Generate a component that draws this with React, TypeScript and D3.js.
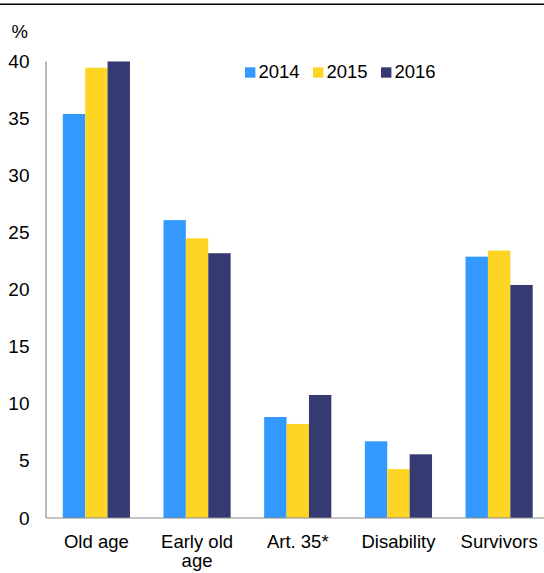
import React from "react";
import * as d3 from "d3";

const categories = ["Old age", "Early old age", "Art. 35*", "Disability", "Survivors"];
const categoryLines = [["Old age"], ["Early old", "age"], ["Art. 35*"], ["Disability"], ["Survivors"]];
const years = ["2014", "2015", "2016"];
const values2014 = [35.4, 26.1, 8.85, 6.72, 22.9];
const values2015 = [39.45, 24.5, 8.24, 4.29, 23.43];
const values2016 = [40.0, 23.2, 10.78, 5.58, 20.42];
const yTicks = [0, 5, 10, 15, 20, 25, 30, 35, 40];
const colors = ["#3399FF", "#FFD524", "#353B72"];

export default function App() {
  const W = 544, H = 573;
  const left = 46, right = 549.5, top = 61.5, bottom = 518;
  const series = [values2014, values2015, values2016];
  const x0 = d3.scaleBand<string>().domain(categories).range([left, right]).paddingInner(0.333).paddingOuter(0.1667);
  const x1 = d3.scaleBand<string>().domain(years).range([0, x0.bandwidth()]);
  const y = d3.scaleLinear().domain([0, 40]).range([bottom, top]);
  const font = "Arial, 'Liberation Sans', sans-serif";
  return (
    <svg width={W} height={H} style={{ position: "absolute", left: 0, top: 0 }} fontFamily={font}>
      <line x1={0} x2={W} y1={4.2} y2={4.2} stroke="#000" strokeWidth={1.5} />
      <text x={11.5} y={37.5} fontSize={18.5} fill="#000">%</text>
      {yTicks.map((t) => (
        <text key={t} x={29.5} y={y(t) + 6.5} fontSize={19} textAnchor="end" fill="#000">{t}</text>
      ))}
      {categories.map((c, ci) =>
        years.map((yr, si) => {
          const v = series[si][ci];
          const bx = (x0(c) as number) + (x1(yr) as number);
          return (
            <rect key={c + yr} x={bx} y={y(v)} width={x1.bandwidth()} height={bottom - y(v)} fill={colors[si]} />
          );
        })
      )}
      <line x1={left} x2={left} y1={top} y2={bottom} stroke="#8c8c8c" strokeWidth={1.2} />
      <line x1={left} x2={W} y1={bottom} y2={bottom} stroke="#8c8c8c" strokeWidth={1.2} />
      {categoryLines.map((lines, ci) => (
        <text key={ci} fontSize={18.5} textAnchor="middle" fill="#000">
          {lines.map((l, li) => (
            <tspan key={li} x={(x0(categories[ci]) as number) + x0.bandwidth() / 2} y={548 + li * 19}>{l}</tspan>
          ))}
        </text>
      ))}
      {years.map((yr, i) => {
        const lx = 245 + i * 68;
        return (
          <g key={yr}>
            <rect x={lx} y={67.3} width={10.4} height={10.4} fill={colors[i]} />
            <text x={lx + 13.5} y={77.7} fontSize={18.5} fill="#000">{yr}</text>
          </g>
        );
      })}
    </svg>
  );
}
